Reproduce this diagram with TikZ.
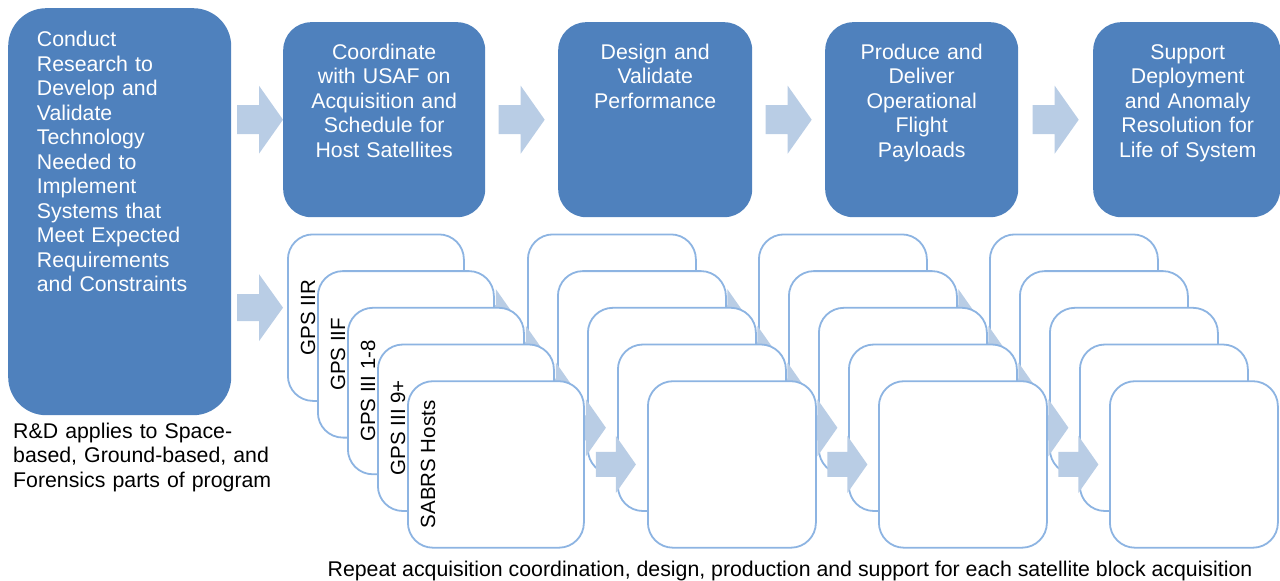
\documentclass[tikz,border=0pt]{standalone}
\usepackage{fontspec}
\setmainfont{Liberation Sans}
\usetikzlibrary{calc}
\definecolor{boxblue}{HTML}{4F81BD}
\definecolor{cardline}{RGB}{141,180,226}
\definecolor{arrowfill}{HTML}{B9CDE5}
% block arrow: center, half length, shaft length, shaft half height, head half height
\newcommand\blockarr[5]{%
  \begin{scope}[shift={(#1)}]
    \fill[arrowfill] (-#2,-#4) -- ({-#2+#3},-#4) -- ({-#2+#3},-#5) -- (#2,0)
      -- ({-#2+#3},#5) -- ({-#2+#3},#4) -- (-#2,#4) -- cycle;
  \end{scope}}
\tikzset{
  bluebox/.style={rectangle, fill=boxblue, draw=none, anchor=north west, inner sep=0pt},
  boxtext/.style={text=white, font=\fontsize{21.3}{24.5}\selectfont, inner sep=0pt},
  card/.style={rectangle, draw=cardline, line width=1.8pt, fill=white, rounded corners=25pt,
    anchor=north west, inner sep=0pt, minimum height=166.5pt},
  cardlabel/.style={text=black, font=\fontsize{20.5}{24}\selectfont, inner sep=0pt, rotate=90},
  plaintext/.style={text=black, font=\fontsize{21.3}{24.5}\selectfont, inner sep=0pt}
}
\begin{document}
\begin{tikzpicture}[x=1pt,y=-1pt]
\useasboundingbox (0,0) rectangle (1280,581);

% top row
\node[bluebox, rounded corners=38pt, minimum width=223pt, minimum height=407pt] (b1) at (8,8) {};
\node[bluebox, rounded corners=28pt, minimum width=202pt, minimum height=195pt] (b2) at (283,22) {};
\node[bluebox, rounded corners=28pt, minimum width=194pt, minimum height=195pt] (b3) at (558,22) {};
\node[bluebox, rounded corners=28pt, minimum width=193pt, minimum height=195pt] (b4) at (825,22) {};
\node[bluebox, rounded corners=28pt, minimum width=187pt, minimum height=195pt] (b5) at (1093,22) {};

\node[boxtext, text width=190pt, align=left, anchor=base west] (t1) at ($(b1.north west)+(28.7,38.7)$)
  {Conduct\\Research to\\Develop and\\Validate\\Technology\\Needed to\\Implement\\Systems that\\Meet Expected\\Requirements\\and Constraints};
\node[boxtext, text width=196pt, align=center, anchor=base] (t2) at ($(b2.north)+(0,37)$)
  {Coordinate\\with USAF on\\Acquisition and\\Schedule for\\Host Satellites};
\node[boxtext, text width=190pt, align=center, anchor=base] (t3) at ($(b3.north)+(0,37)$)
  {Design and\\Validate\\Performance};
\node[boxtext, text width=190pt, align=center, anchor=base] (t4) at ($(b4.north)+(0,37)$)
  {Produce and\\Deliver\\Operational\\Flight\\Payloads};
\node[boxtext, text width=185pt, align=center, anchor=base] (t5) at ($(b5.north)+(1,37)$)
  {Support\\Deployment\\and Anomaly\\Resolution for\\Life of System};

\coordinate (a1) at ($(b2.west)+(-23,0)$);
\coordinate (a2) at ($(b2.east)!0.5!(b3.west)$);
\coordinate (a3) at ($(b3.east)!0.5!(b4.west)$);
\coordinate (a4) at ($(b4.east)!0.5!(b5.west)$);
\foreach \a in {a1,a2,a3,a4} {\blockarr{\a}{23}{22}{14.5}{34}}

% bottom stacks
\foreach \r/\lab in {0/GPS IIR, 1/GPS IIF, 2/GPS III 1-8, 3/GPS III 9+, 4/SABRS Hosts} {
  \foreach \s/\L/\W in {1/287/176, 2/527/168, 3/758/168, 4/989/168} {
    \node[card, minimum width=\W pt] (c\s\r) at ({\L+30*\r},{233.5+36.7*\r}) {};
  }
  \node[cardlabel] (l\r) at ($(c1\r.west)+(21,0)$) {\lab};
  \foreach \s/\t in {1/2, 2/3, 3/4} {
    \coordinate (m\s\r) at ($(c\s\r.east)!0.5!(c\t\r.west)$);
    \blockarr{m\s\r}{20}{20}{12.5}{28.5}
  }
}

\coordinate (a0) at ($(c10.west)+(-27,-10)$);
\blockarr{a0}{23}{22}{13.5}{33.5}

% captions
\node[plaintext, text width=290pt, align=left, anchor=base west] (rd) at (13,438)
  {R\&D applies to Space-\\based, Ground-based, and\\Forensics parts of program};
\node[plaintext, anchor=base] (cap) at (790,576)
  {Repeat acquisition coordination, design, production and support for each satellite block acquisition};
\end{tikzpicture}
\end{document}
